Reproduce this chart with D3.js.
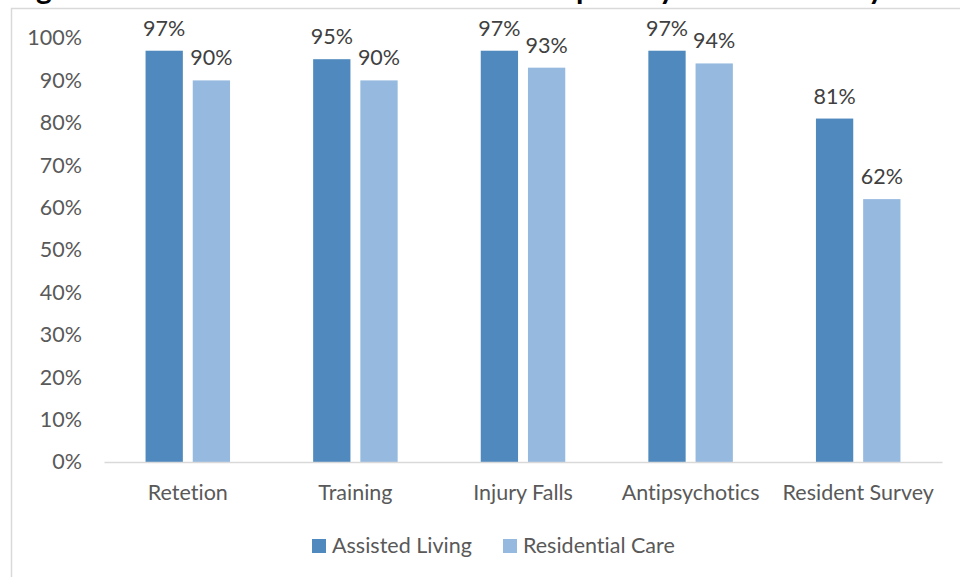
<!DOCTYPE html>
<html>
<head>
<meta charset="utf-8">
<script src="https://cdn.jsdelivr.net/npm/d3@7"></script>
<style>
  body { margin: 0; background: #fff; }
  svg { display: block; }
  text { font-variant-ligatures: none; }
</style>
</head>
<body>
<svg id="chart" width="960" height="577"></svg>
<script>
// data
var categories = ["Retetion", "Training", "Injury Falls", "Antipsychotics", "Resident Survey"];
var seriesNames = ["Assisted Living", "Residential Care"];
var assistedLiving = [97, 95, 97, 97, 81];
var residentialCare = [90, 90, 93, 94, 62];
var yTicks = [0, 10, 20, 30, 40, 50, 60, 70, 80, 90, 100];
// title is cut off at the top, only its descenders show
var titleBits = [{ t: "g", x: 36 }, { t: "p", x: 576 }, { t: "y", x: 659 }, { t: "y", x: 868 }];

var colors = ["#4f89bd", "#95b9df"];
var font = "Lato, 'Open Sans', sans-serif";
var fsize = "21.5px";

var svg = d3.select("#chart");

// outer frame (partly outside the window)
svg.append("rect")
  .attr("x", 11.5).attr("y", 8.5)
  .attr("width", 1000).attr("height", 600)
  .attr("fill", "none")
  .attr("stroke", "#d9d9d9")
  .attr("stroke-width", 1.5);

svg.selectAll(".title-bit")
  .data(titleBits)
  .enter()
  .append("text")
  .attr("class", "title-bit")
  .attr("x", function (d) { return d.x; })
  .attr("y", -1)
  .attr("font-family", font)
  .attr("font-weight", "bold")
  .attr("font-size", "30px")
  .attr("fill", "#000")
  .text(function (d) { return d.t; });

var plotLeft = 104, plotRight = 942, plotTop = 38, plotBottom = 462;

var x0 = d3.scaleBand().domain(categories).range([plotLeft, plotRight]);
var x1 = d3.scaleBand().domain(seriesNames).range([0, 84.5]).paddingInner(0.21);
var y = d3.scaleLinear().domain([0, 100]).range([plotBottom, plotTop]);

// y axis labels (no axis line, no ticks)
var yAxis = d3.axisLeft(y)
  .tickValues(yTicks)
  .tickSize(0)
  .tickPadding(0)
  .tickFormat(function (d) { return d + "%"; });

var ya = svg.append("g")
  .attr("transform", "translate(82,0)")
  .call(yAxis);
ya.select(".domain").remove();
ya.selectAll("text")
  .attr("font-family", font)
  .attr("font-size", fsize)
  .attr("fill", "#595959");

// bars
var rows = categories.map(function (c, i) {
  return { cat: c, vals: [assistedLiving[i], residentialCare[i]] };
});

var groups = svg.selectAll(".grp")
  .data(rows)
  .enter()
  .append("g")
  .attr("class", "grp")
  .attr("transform", function (d) {
    return "translate(" + (x0(d.cat) + x0.bandwidth() / 2 - 42.25) + ",0)";
  });

function barData(d) {
  return d.vals.map(function (v, j) { return { s: seriesNames[j], v: v, j: j }; });
}

groups.selectAll("rect")
  .data(barData)
  .enter()
  .append("rect")
  .attr("x", function (d) { return x1(d.s); })
  .attr("y", function (d) { return y(d.v); })
  .attr("width", x1.bandwidth())
  .attr("height", function (d) { return plotBottom - y(d.v); })
  .attr("fill", function (d) { return colors[d.j]; });

groups.selectAll(".val")
  .data(barData)
  .enter()
  .append("text")
  .attr("class", "val")
  .attr("x", function (d) { return x1(d.s) + x1.bandwidth() / 2; })
  .attr("y", function (d) { return y(d.v) - 15; })
  .attr("text-anchor", "middle")
  .attr("font-family", font)
  .attr("font-size", fsize)
  .attr("fill", "#404040")
  .text(function (d) { return d.v + "%"; });

// x axis line + category labels
var xAxis = d3.axisBottom(x0).tickSize(0).tickPadding(0);
var xa = svg.append("g")
  .attr("transform", "translate(0," + plotBottom + ")")
  .call(xAxis);
xa.select(".domain")
  .attr("stroke", "#d9d9d9")
  .attr("stroke-width", 1.5);
xa.selectAll("text")
  .attr("dy", 0)
  .attr("y", 38)
  .attr("font-family", font)
  .attr("font-size", fsize)
  .attr("fill", "#595959");

// legend
var legendX = [312, 503];
var legend = svg.selectAll(".leg")
  .data(seriesNames)
  .enter()
  .append("g")
  .attr("class", "leg")
  .attr("transform", function (d, i) { return "translate(" + legendX[i] + ",539)"; });
legend.append("rect")
  .attr("width", 14).attr("height", 14)
  .attr("fill", function (d, i) { return colors[i]; });
legend.append("text")
  .attr("x", 20)
  .attr("y", 14)
  .attr("font-family", font)
  .attr("font-size", fsize)
  .attr("fill", "#595959")
  .text(function (d) { return d; });
</script>
</body>
</html>
